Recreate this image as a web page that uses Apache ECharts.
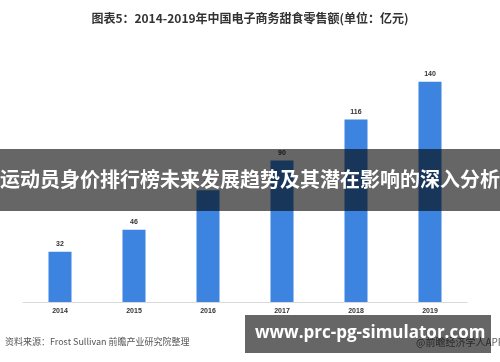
<!DOCTYPE html>
<html>
<head>
<meta charset="utf-8">
<script src="https://cdn.jsdelivr.net/npm/echarts@6/dist/echarts.min.js"></script>
<style>
html,body{margin:0;padding:0;background:#fff;}
#c{width:500px;height:362px;}
</style>
</head>
<body>
<div id="c"></div>
<script>
var categories = ['2014', '2015', '2016', '2017', '2018', '2019'];
var values = [32, 46, 71, 90, 116, 140];
var titleText = '图表5：2014-2019年中国电子商务甜食零售额(单位：亿元)';
var sourceText = '资料来源：Frost Sullivan 前瞻产业研究院整理';
var bannerText = '运动员身价排行榜未来发展趋势及其潜在影响的深入分析';
var siteText = 'www.prc-pg-simulator.com';
var appText = '@前瞻经济学人APP';

var chart = echarts.init(document.getElementById('c'));
var cjk = '"Noto Sans CJK SC", "Noto Sans", sans-serif';
chart.setOption({
  backgroundColor: '#fff',
  animation: false,
  title: {
    text: titleText,
    left: 'center',
    top: 7,
    textStyle: { fontFamily: cjk, fontSize: 12, fontWeight: 'bold', color: '#333' }
  },
  grid: { left: 23, right: 33, top: 66, bottom: 60 },
  xAxis: {
    type: 'category',
    data: categories,
    axisLine: { lineStyle: { color: '#d9d9d9', width: 1 } },
    axisTick: { show: false },
    axisLabel: { fontSize: 7, fontWeight: 'bold', color: '#333', margin: 6, fontFamily: 'Arial, sans-serif' }
  },
  yAxis: {
    type: 'value',
    min: 0,
    max: 150,
    show: false,
    splitLine: { show: false }
  },
  series: [{
    type: 'bar',
    data: values,
    barWidth: 23,
    itemStyle: { color: '#3d84e0' },
    label: {
      show: true,
      position: 'top',
      distance: 4,
      fontSize: 7,
      fontWeight: 'bold',
      color: '#333',
      fontFamily: 'Arial, sans-serif'
    }
  }],
  graphic: [
    {
      type: 'text', left: 5, top: 337, z: 10,
      style: { text: sourceText, fontSize: 9, fill: '#555', fontFamily: cjk }
    },
    {
      type: 'text', left: 416, top: 337, z: 10,
      style: { text: appText, fontSize: 10, fill: '#666', fontFamily: cjk }
    },
    {
      type: 'rect', left: 0, top: 149, z: 100,
      shape: { width: 500, height: 62 },
      style: { fill: 'rgba(0,0,0,0.6)' }
    },
    {
      type: 'text', left: 'center', top: 169, z: 101,
      style: { text: bannerText, fontSize: 20, fontWeight: 'bold', fill: '#fff', fontFamily: cjk }
    },
    {
      type: 'rect', left: 245, top: 315, z: 100,
      shape: { width: 246, height: 38 },
      style: { fill: 'rgba(0,0,0,0.6)' }
    },
    {
      type: 'text', left: 255, top: 325, z: 101,
      style: { text: siteText, fontSize: 17, fontWeight: 'bold', fill: '#fff', fontFamily: '"Open Sans", sans-serif' }
    }
  ]
});
</script>
</body>
</html>
